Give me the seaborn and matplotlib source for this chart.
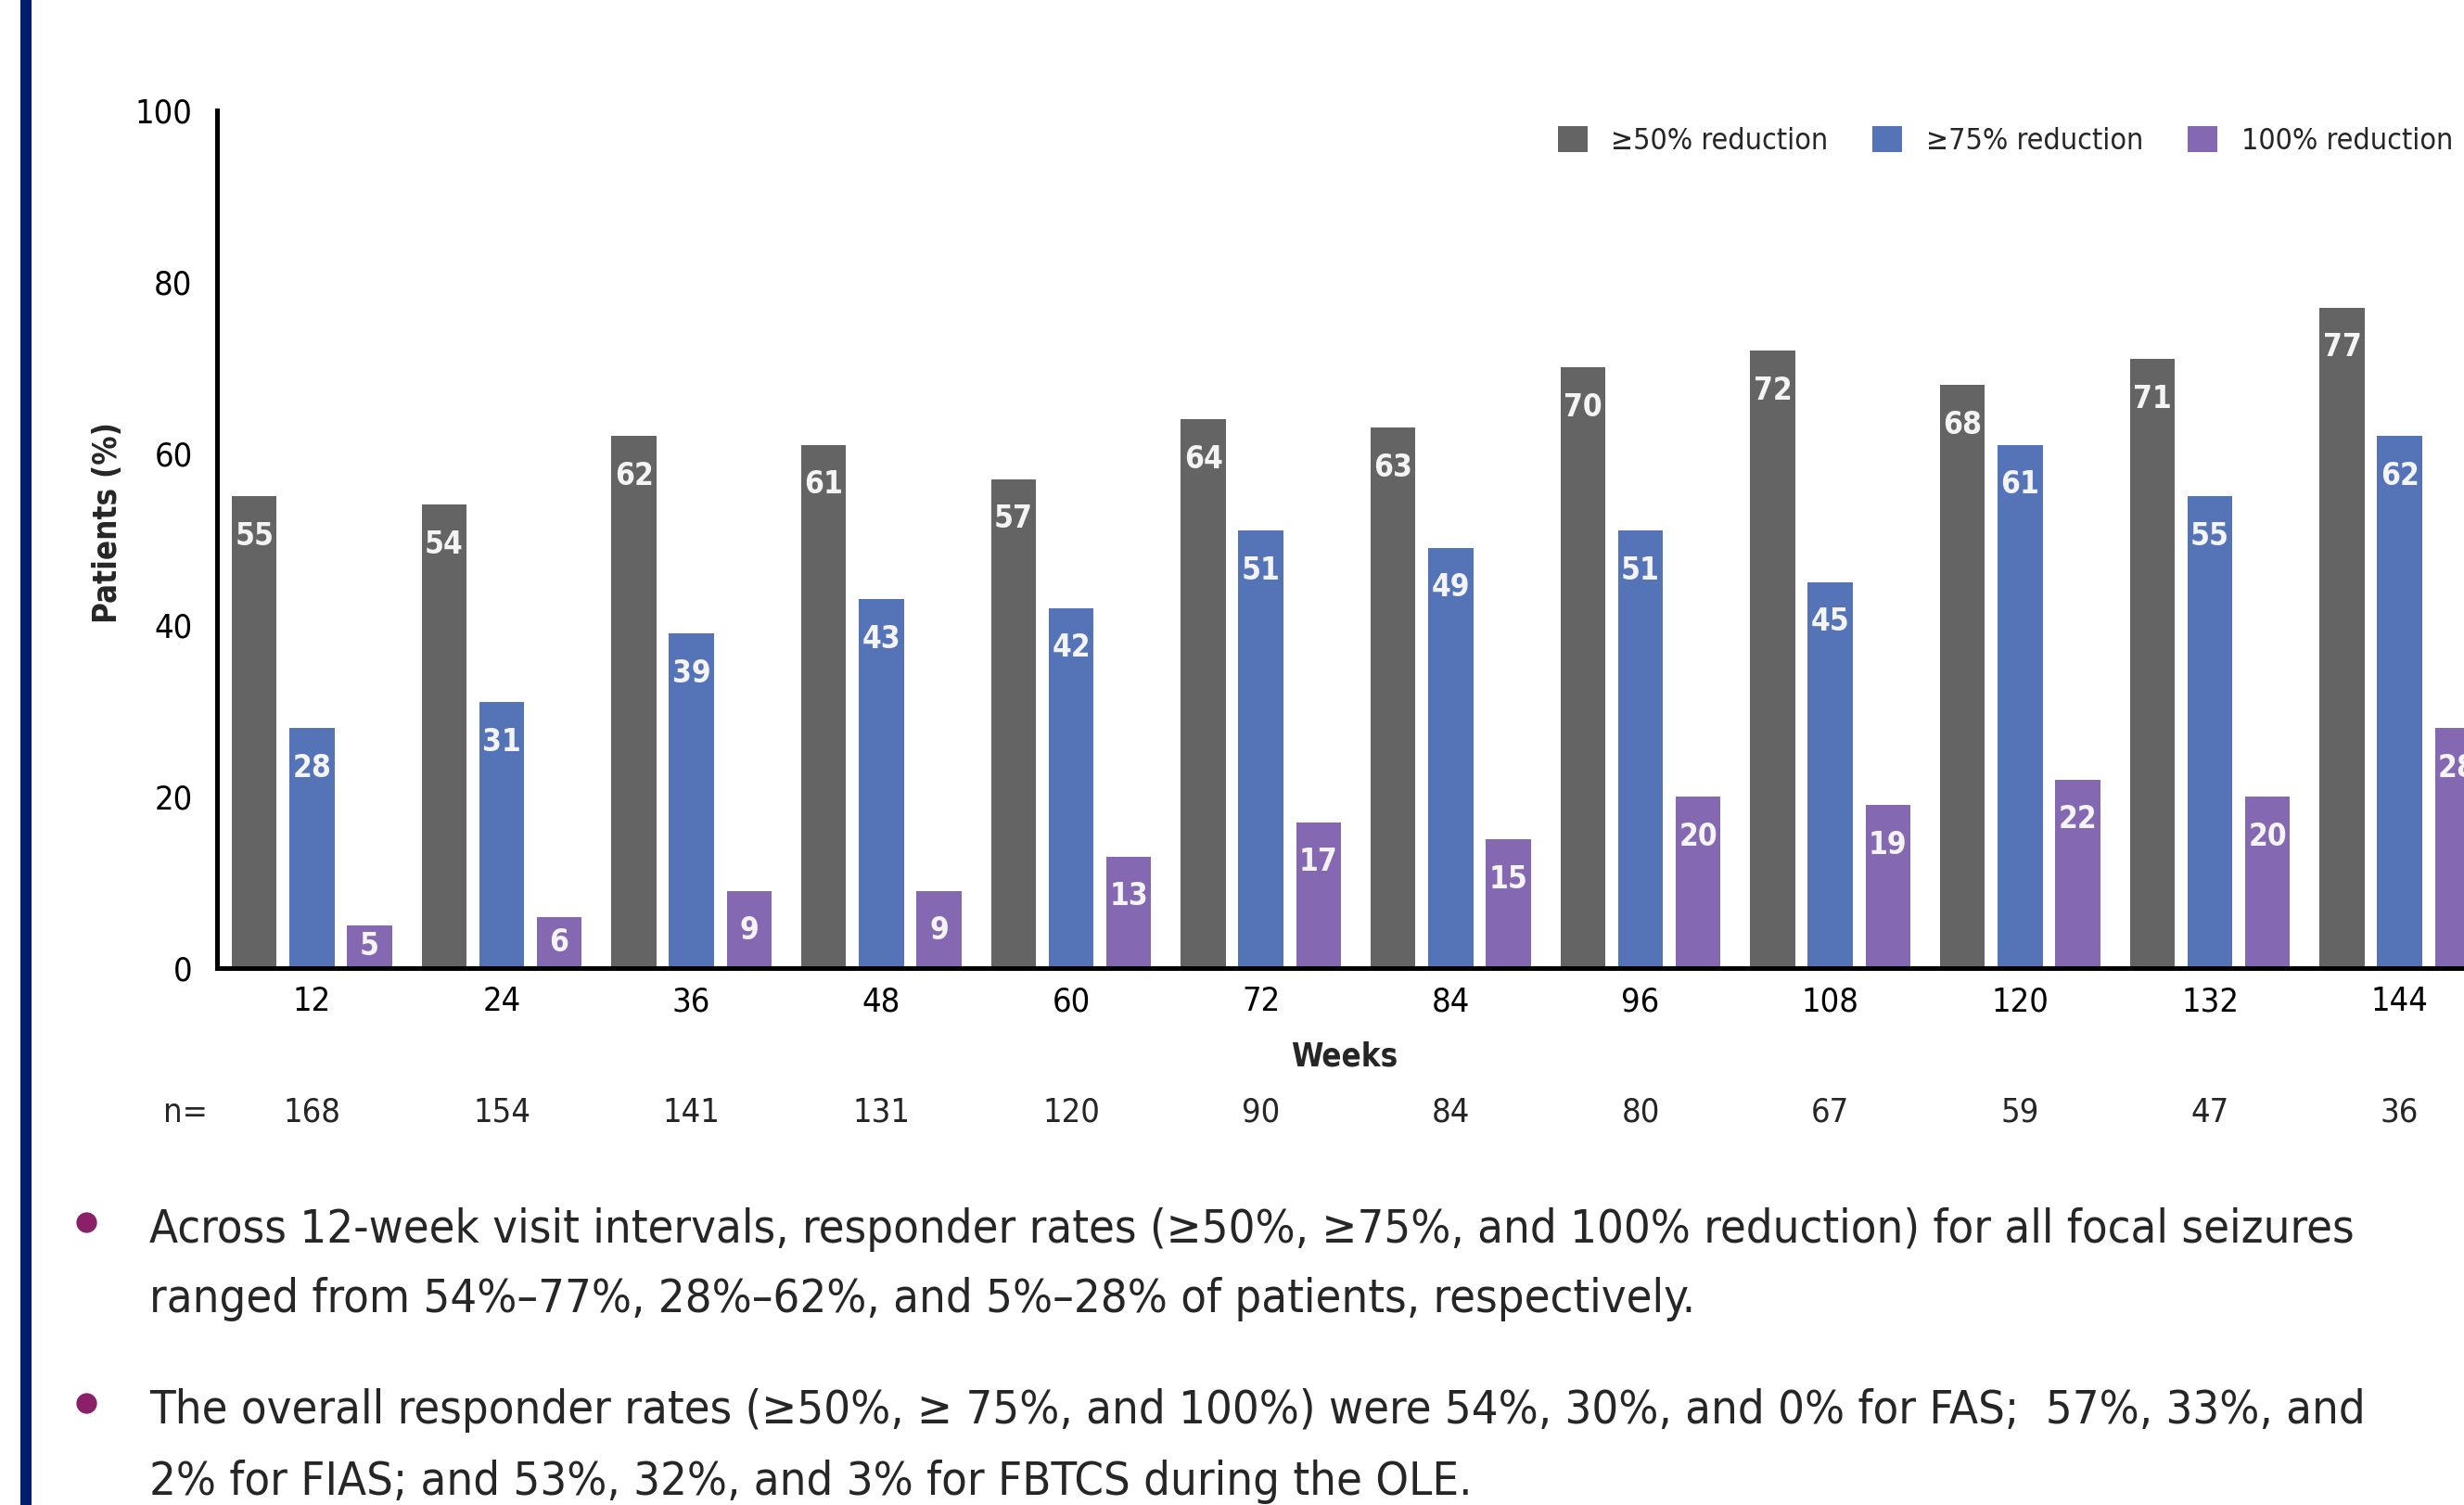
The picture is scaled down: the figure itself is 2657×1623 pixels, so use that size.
import numpy as np
import pandas as pd
import matplotlib
matplotlib.use("Agg")
import matplotlib.pyplot as plt
import matplotlib.transforms as mtransforms
from matplotlib.lines import Line2D
from matplotlib import font_manager
import seaborn as sns

# ===============================
# DATA
# ===============================
weeks = ["12", "24", "36", "48", "60", "72", "84", "96", "108", "120", "132", "144"]
n_patients = [168, 154, 141, 131, 120, 90, 84, 80, 67, 59, 47, 36]
groups = ["\u226550% reduction", "\u226575% reduction", "100% reduction"]
resp_50 = [55, 54, 62, 61, 57, 64, 63, 70, 72, 68, 71, 77]
resp_75 = [28, 31, 39, 43, 42, 51, 49, 51, 45, 61, 55, 62]
resp_100 = [5, 6, 9, 9, 13, 17, 15, 20, 19, 22, 20, 28]
colors = ["#646464", "#5573b7", "#8468b1"]

bullets = [
    ["Across 12-week visit intervals, responder rates (\u226550%, \u226575%, and 100% reduction) for all focal seizures",
     "ranged from 54%\u201377%, 28%\u201362%, and 5%\u201328% of patients, respectively."],
    ["The overall responder rates (\u226550%, \u2265 75%, and 100%) were 54%, 30%, and 0% for FAS;  57%, 33%, and",
     "2% for FIAS; and 53%, 32%, and 3% for FBTCS during the OLE."],
]

df = pd.DataFrame({
    "week": weeks * 3,
    "pct": resp_50 + resp_75 + resp_100,
    "group": [groups[0]] * 12 + [groups[1]] * 12 + [groups[2]] * 12,
})

# ===============================
# STYLE
# ===============================
sns.set_style("white")

# look for a narrow / condensed sans face, the slide uses Helvetica Condensed
COND = ("condensed", "semi-condensed", "extra-condensed", "ultra-condensed")
fonts = font_manager.fontManager.ttflist
FAMILY, STRETCH = "Liberation Sans", "normal"
for pref in ["Liberation Sans Narrow", "Noto Sans", "DejaVu Sans", "Open Sans", "Roboto", "Lato", "Inter"]:
    hit = [f for f in fonts if f.name == pref and (pref.endswith("Narrow") or str(f.stretch) in COND)]
    if hit:
        FAMILY = pref
        STRETCH = "normal" if pref.endswith("Narrow") else "condensed"
        break
if FAMILY == "Liberation Sans":
    other = [f for f in fonts if "Narrow" in f.name or "Condensed" in f.name]
    if other:
        FAMILY = other[0].name

plt.rcParams["font.family"] = [FAMILY, "DejaVu Sans"]
plt.rcParams["font.stretch"] = STRETCH

W, H = 2657, 1623
fig = plt.figure(figsize=(W / 100, H / 100), dpi=100)

# axes placed in pixel terms of the slide (right side runs off the edge)
x0, x1 = 234, 2690
y_top, y_bot = 119, 1044
ax = fig.add_axes([x0 / W, 1 - y_bot / H, (x1 - x0) / W, (y_bot - y_top) / H])

sns.barplot(data=df, x="week", y="pct", hue="group", order=weeks, hue_order=groups,
            palette=colors, saturation=1, width=0.91, gap=0.22, linewidth=0,
            ax=ax, legend=True)

ax.set_xlim(-0.5, 11.5)
ax.set_ylim(0, 100)
ax.set_yticks(range(0, 101, 20))
for s in ["top", "right"]:
    ax.spines[s].set_visible(False)
for s in ["left", "bottom"]:
    ax.spines[s].set_linewidth(3.6)
    ax.spines[s].set_color("black")
ax.tick_params(axis="y", length=5, width=3, pad=14, labelsize=26, colors="black")
ax.tick_params(axis="x", length=0, pad=14, labelsize=26, colors="black")

ax.set_ylabel("Patients (%)", fontsize=25, fontweight="bold")
ax.yaxis.set_label_coords((133 - x0) / (x1 - x0), (y_bot - 564) / (y_bot - y_top))
ax.set_xlabel("Weeks", fontsize=25, fontweight="bold")
ax.xaxis.set_label_coords((1450 - x0) / (x1 - x0), (y_bot - 1122) / (y_bot - y_top))

# value labels inside the bars
for cont in ax.containers:
    vals = cont.datavalues
    top_labels = [f"{v:.0f}" if v >= 8 else "" for v in vals]
    mid_labels = [f"{v:.0f}" if v < 8 else "" for v in vals]
    ax.bar_label(cont, labels=top_labels, padding=-43, color="#f4f4f4",
                 fontsize=24, fontweight="bold")
    ax.bar_label(cont, labels=mid_labels, label_type="center", color="#f4f4f4",
                 fontsize=24, fontweight="bold")

# legend across the top right, right edge kept inside the slide
handles, labels = ax.get_legend_handles_labels()
ax.get_legend().remove()
fig.legend(handles, labels, loc="center right", bbox_to_anchor=(2645 / W, 1 - 152 / H),
           ncol=3, frameon=False, fontsize=23, handlelength=1.0, handleheight=1.0,
           handletextpad=0.8, columnspacing=1.5, borderpad=0, borderaxespad=0)

# n= row under the axis
trans = mtransforms.blended_transform_factory(ax.transData, fig.transFigure)
fig.text(200 / W, 1 - 1210 / H, "n=", fontsize=26, ha="center", va="baseline")
for i, n in enumerate(n_patients):
    ax.text(i, 1 - 1210 / H, str(n), transform=trans, fontsize=26,
            ha="center", va="baseline", clip_on=False)

# bullet text: size chosen so the first line spans the same width as on the slide
renderer = fig.canvas.get_renderer()
probe = fig.text(0, 0, bullets[0][0], fontsize=40)
wpx = probe.get_window_extent(renderer).width
probe.remove()
bsize = min(46, 40 * (2535 - 161) / wpx)

baselines = [[1340, 1415], [1535, 1612]]
for lines, ys in zip(bullets, baselines):
    fig.add_artist(Line2D([93 / W], [1 - (ys[0] - 22) / H], marker="o", markersize=15,
                          color="#8a2068", transform=fig.transFigure, linestyle="none"))
    for txt, yb in zip(lines, ys):
        fig.text(161 / W, 1 - yb / H, txt, fontsize=bsize, ha="left", va="baseline")

# navy bar at the left edge of the slide
fig.add_artist(plt.Rectangle((22 / W, 0), 12 / W, 1, transform=fig.transFigure,
                             color="#021c6e", linewidth=0))

fig.savefig("out.png", dpi=100)
